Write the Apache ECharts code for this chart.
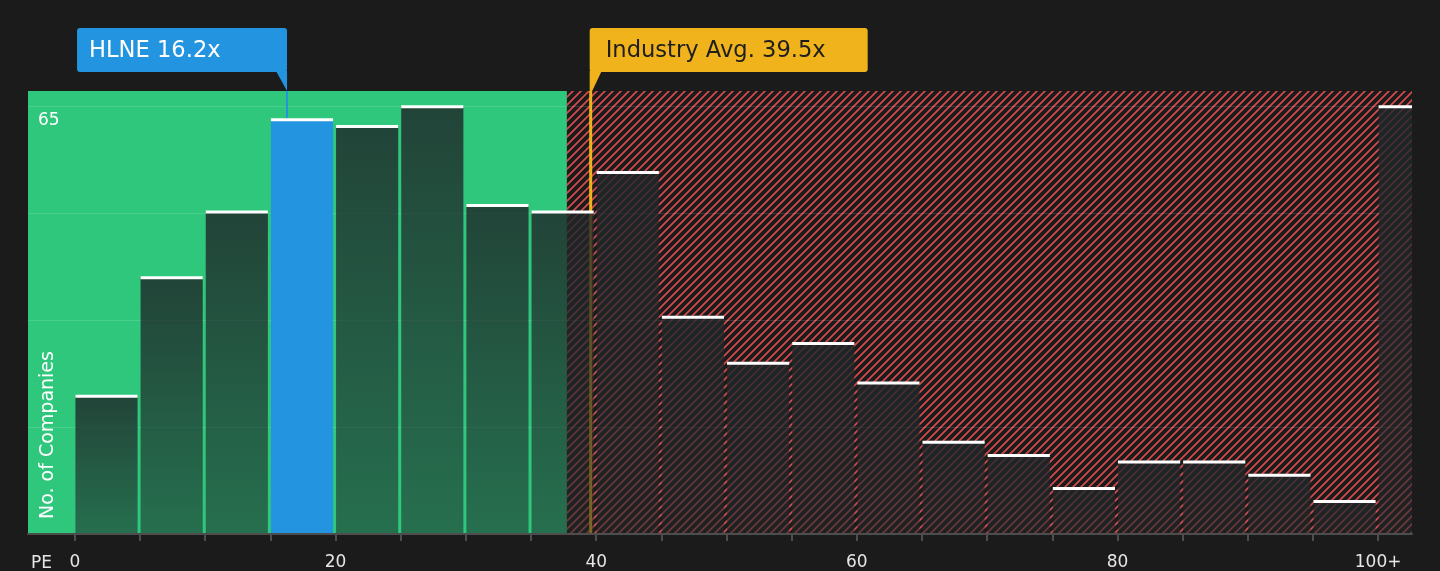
<!DOCTYPE html>
<html>
<head>
<meta charset="utf-8">
<script src="https://cdn.jsdelivr.net/npm/echarts@6/dist/echarts.min.js"></script>
<style>
  html, body { margin: 0; background: #1b1b1b; }
  #pe_hist { width: 1440px; height: 571px; }
</style>
</head>
<body>
<div id="pe_hist"></div>
<script>
// PE histogram, bins of 5 with a final 100+ bucket
var binStarts = [0, 5, 10, 15, 20, 25, 30, 35, 40, 45, 50, 55, 60, 65, 70, 75, 80, 85, 90, 95, 100];
var companyCounts = [21, 39, 49, 63, 62, 65, 50, 49, 55, 33, 26, 29, 23, 14, 12, 7, 11, 11, 9, 5, 65];
var binWidth = 5;
var xTicks = [0, 5, 10, 15, 20, 25, 30, 35, 40, 45, 50, 55, 60, 65, 70, 75, 80, 85, 90, 95, 100];
var xTickLabels = [0, 20, 40, 60, 80, 100];
var yLabelValue = 65;

var companyName = 'HLNE';
var companyPE = 16.2;
var industryPE = 39.5;
var fairPE = 37.75;   // green / red zone boundary

var xMin = -3.6, xMax = 102.6;

var FONT = '"DejaVu Sans", sans-serif';

function hatchPattern() {
    var size = 24, step = size / 3;
    var c = document.createElement('canvas');
    c.width = size; c.height = size;
    var ctx = c.getContext('2d');
    ctx.strokeStyle = '#d64b50';
    ctx.lineWidth = 1.7;
    ctx.beginPath();
    for (var o = -size; o <= size; o += step) {
        ctx.moveTo(o - 2, size + 2);
        ctx.lineTo(o + size + 2, -2);
    }
    ctx.stroke();
    return c;
}
var hatchFill = { image: hatchPattern(), repeat: 'repeat' };

function clipToGrid(rect, params) {
    var cs = params.coordSys;
    return echarts.graphic.clipRectByRect(rect, {
        x: cs.x, y: cs.y, width: cs.width, height: cs.height
    });
}

var zones = [[xMin, fairPE, 0], [fairPE, xMax, 1]];
var bins = binStarts.map(function (s, i) { return [s, s + binWidth, companyCounts[i]]; });
var markers = [[companyPE, 0], [industryPE, 1]];
var markerText = [companyName + ' ' + companyPE + 'x', 'Industry Avg. ' + industryPE + 'x'];

var myChart = echarts.init(document.getElementById('pe_hist'));
myChart.setOption({
    backgroundColor: '#1b1b1b',
    animation: false,
    grid: { left: 28, right: 28, top: 91, bottom: 36 },
    xAxis: {
        type: 'value',
        min: xMin,
        max: xMax,
        z: 4,
        axisLine: { lineStyle: { color: '#4d4d4d', width: 2 } },
        axisTick: {
            customValues: xTicks,
            length: 7,
            lineStyle: { color: '#4d4d4d', width: 2 }
        },
        axisLabel: {
            customValues: xTickLabels,
            color: '#e6e6e6',
            fontSize: 17,
            fontFamily: FONT,
            margin: 20,
            formatter: function (v) { return v === 100 ? '100+' : String(v); }
        },
        splitLine: { show: false }
    },
    yAxis: {
        type: 'value',
        min: 0,
        max: 67.3,
        interval: 16.25,
        z: 2,
        axisLine: { show: false },
        axisTick: { show: false },
        axisLabel: {
            inside: true,
            margin: 10,
            color: '#ffffff',
            fontSize: 17,
            fontFamily: FONT,
            verticalAlign: 'top',
            padding: [6, 0, 0, 0],
            formatter: function (v) { return v === yLabelValue ? String(v) : ''; }
        },
        splitLine: {
            showMinLine: false,
            showMaxLine: false,
            lineStyle: { color: 'rgba(255,255,255,0.13)', width: 1 }
        }
    },
    graphic: [
        {
            type: 'text', left: 31, top: 555, z: 100,
            style: { text: 'PE', fill: '#e6e6e6', fontSize: 17, fontFamily: FONT }
        },
        {
            type: 'text', x: 48, y: 519, rotation: Math.PI / 2, z: 100,
            style: {
                text: 'No. of Companies', fill: '#ffffff', fontSize: 19, fontFamily: FONT,
                align: 'left', verticalAlign: 'middle'
            }
        }
    ],
    series: [
        {
            name: 'zones',
            type: 'custom',
            z: 1,
            silent: true,
            data: zones,
            renderItem: function (params, api) {
                var cs = params.coordSys;
                var a = api.coord([api.value(0), 0])[0];
                var b = api.coord([api.value(1), 0])[0];
                var r = clipToGrid({ x: a, y: cs.y, width: b - a, height: cs.height }, params);
                if (!r) return;
                return {
                    type: 'rect',
                    shape: r,
                    style: { fill: api.value(2) ? hatchFill : '#2ec77c' }
                };
            }
        },
        {
            name: 'markers',
            type: 'custom',
            z: 2,
            silent: true,
            data: markers,
            renderItem: function (params, api) {
                var cs = params.coordSys;
                var x = api.coord([api.value(0), 0])[0];
                var isIndustry = api.value(1) === 1;
                var color = isIndustry ? '#f0b31c' : '#2394df';
                var boxW = isIndustry ? 278 : 210;
                var boxX = isIndustry ? x : x + 1 - boxW;
                var boxTop = cs.y - 63, boxBottom = cs.y - 19;
                var tail = isIndustry
                    ? [[x, boxBottom - 1], [x + 12, boxBottom - 1], [x + 2.5, cs.y], [x, cs.y]]
                    : [[x - 10, boxBottom - 1], [x + 1, boxBottom - 1], [x + 1, cs.y]];
                return {
                    type: 'group',
                    children: [
                        {
                            type: 'rect',
                            shape: { x: isIndustry ? x - 0.5 : x, y: cs.y, width: isIndustry ? 3 : 2, height: cs.height },
                            style: { fill: color }
                        },
                        {
                            type: 'rect',
                            shape: { x: boxX, y: boxTop, width: boxW, height: boxBottom - boxTop, r: 3 },
                            style: { fill: color }
                        },
                        { type: 'polygon', shape: { points: tail }, style: { fill: color } },
                        {
                            type: 'text',
                            x: boxX + (isIndustry ? 16 : 12),
                            y: (boxTop + boxBottom) / 2 + 1,
                            style: {
                                text: markerText[params.dataIndex],
                                fill: isIndustry ? '#1e1e1e' : '#ffffff',
                                fontSize: 22.6,
                                fontFamily: FONT,
                                verticalAlign: 'middle'
                            }
                        }
                    ]
                };
            }
        },
        {
            name: 'companies',
            type: 'custom',
            z: 3,
            silent: true,
            data: bins,
            renderItem: function (params, api) {
                var start = api.value(0), end = api.value(1), count = api.value(2);
                var p0 = api.coord([start, 0]);
                var p1 = api.coord([end, count]);
                var w = p1[0] - p0[0] - 3;
                var body = clipToGrid({ x: p0[0] + 0.5, y: p1[1], width: w, height: p0[1] - p1[1] }, params);
                var cap = clipToGrid({ x: p0[0] + 0.5, y: p1[1] - 1, width: w, height: 3 }, params);
                var isCompany = companyPE >= start && companyPE < end;
                var children = [];
                if (body) {
                    children.push({
                        type: 'rect',
                        shape: body,
                        style: {
                            fill: isCompany ? '#2394df' : {
                                type: 'linear', x: 0, y: 0, x2: 0, y2: 1,
                                colorStops: [
                                    { offset: 0, color: 'rgba(31,39,41,0.82)' },
                                    { offset: 1, color: 'rgba(31,39,41,0.55)' }
                                ]
                            }
                        }
                    });
                }
                if (cap) {
                    children.push({ type: 'rect', shape: cap, style: { fill: '#ffffff' } });
                }
                return { type: 'group', children: children };
            }
        }
    ]
});
</script>
</body>
</html>
